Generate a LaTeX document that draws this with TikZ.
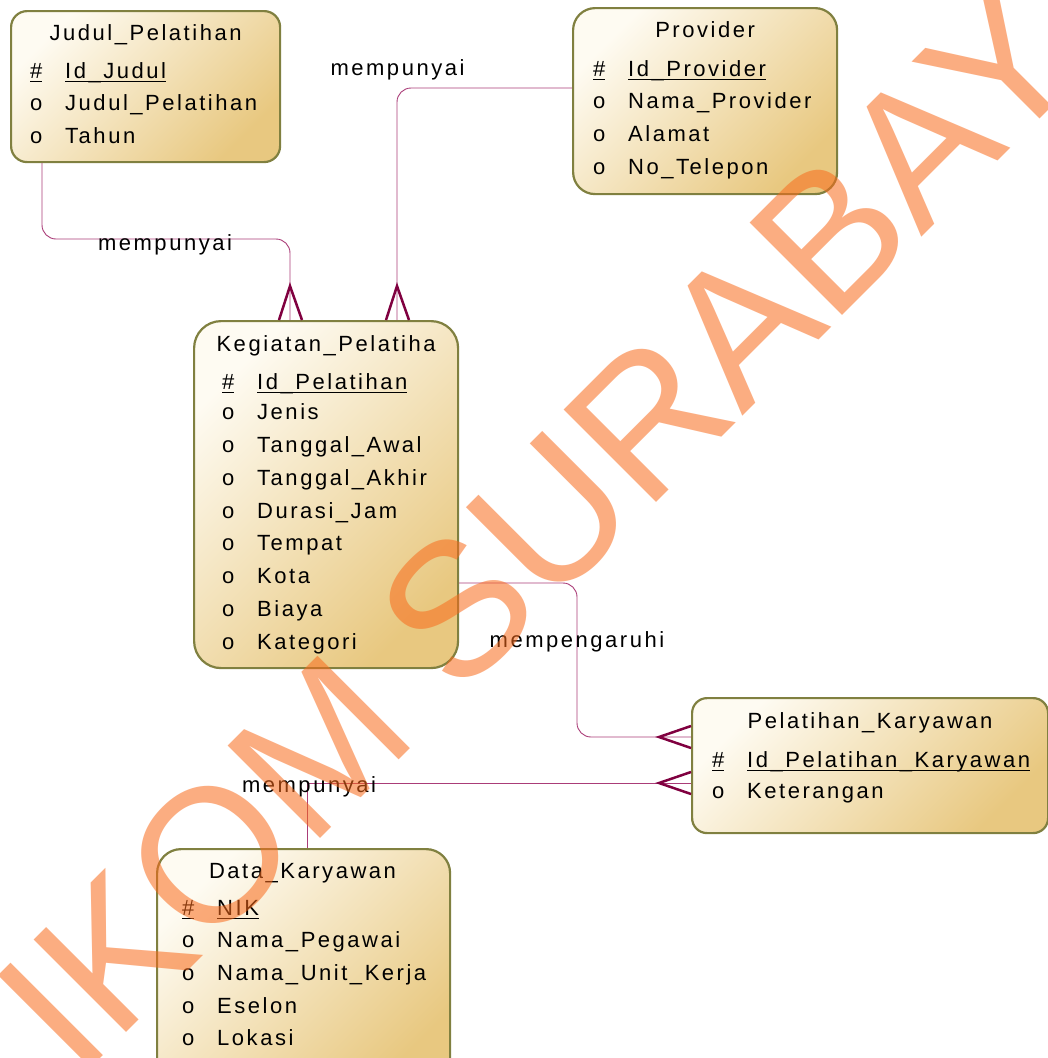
\documentclass[tikz,border=0pt]{standalone}
\usepackage{fontspec}
\setmainfont{Liberation Sans}
\newfontfamily\erfont[LetterSpace=11.5]{Liberation Sans}
\newfontfamily\wmfont{Liberation Sans}
\definecolor{boxborder}{RGB}{128,128,64}
\definecolor{boxlight}{RGB}{254,251,242}
\definecolor{boxdark}{RGB}{232,200,128}
\definecolor{connline}{RGB}{170,60,120}
\definecolor{crowc}{RGB}{128,0,64}
\definecolor{wmorange}{RGB}{249,106,27}
\newsavebox\ulsave
\newcommand\myul[1]{\sbox\ulsave{#1}\rlap{\rule[-4.2pt]{\wd\ulsave}{1.4pt}}\usebox\ulsave}
\begin{document}
\begin{tikzpicture}[x=1pt,y=-1pt,
  entity/.style={draw=boxborder, line width=2.2pt, top color=boxlight, bottom color=boxdark, shading angle=45, anchor=north west, inner sep=0pt},
  txt/.style={anchor=base west, inner sep=0pt, font=\erfont\fontsize{22}{26}\selectfont},
  ttl/.style={anchor=base, inner sep=0pt, font=\erfont\fontsize{22}{26}\selectfont},
  rel/.style={anchor=base, inner sep=0pt, font=\erfont\fontsize{22}{26}\selectfont},
  conn/.style={draw=connline, line width=0.9pt, rounded corners=14pt},
  crow/.style={draw=crowc, line width=2.5pt},
]
\clip (0,0) rectangle (1048,1058);
\fill[white] (0,0) rectangle (1048,1058);

% entity boxes
\node[entity, rounded corners=16pt, minimum width=269pt, minimum height=151pt] (judul) at (10,10) {};
\node[entity, rounded corners=22pt, minimum width=264pt, minimum height=186pt] (provider) at (572,7) {};
\node[entity, rounded corners=27pt, minimum width=264pt, minimum height=347pt] (kegiatan) at (193,320) {};
\node[entity, rounded corners=15pt, minimum width=356pt, minimum height=135pt] (pk) at (691,697) {};
\node[entity, rounded corners=24pt, minimum width=293pt, minimum height=240pt] (data) at (156,848) {};

% connectors
\draw[conn] (judul.south -| 42,0) -- (42,239) -- (290,239) -- (kegiatan.north -| 290,0);
\draw[conn] (provider.west |- 0,88) -- (397,88) -- (kegiatan.north -| 397,0);
\draw[conn] (kegiatan.east |- 0,583) -- (577,583) -- (577,737) -- (pk.west |- 0,737);
\draw[conn, rounded corners=0pt] (data.north -| 307,0) -- (307,783) -- (pk.west |- 0,783);

% crow's feet
\draw[crow] (kegiatan.north -| 279,0) -- (290,286) -- (kegiatan.north -| 302,0);
\draw[crow] (kegiatan.north -| 386,0) -- (397,286) -- (kegiatan.north -| 409,0);
\draw[crow] (pk.west |- 0,726) -- (659,737) -- (pk.west |- 0,748);
\draw[crow] (pk.west |- 0,772) -- (659,783) -- (pk.west |- 0,794);

% relationship labels
\node[rel] (r1) at (165,250) {mempunyai};
\node[rel] (r2) at (397.5,75) {mempunyai};
\node[rel] (r3) at (577,647) {mempengaruhi};
\node[rel] (r4) at (309,792) {mempunyai};

% Judul_Pelatihan
\node[ttl] (jt) at (judul.north |- 0,40) {Judul\_Pelatihan};
\node[txt] (jk) at (30,78) {\myul{\#}};
\node[txt] (ja1) at (65,78) {\myul{Id\_Judul}};
\node[txt] (jm2) at (30,110.5) {o};
\node[txt] (ja2) at (65,110.5) {Judul\_Pelatihan};
\node[txt] (jm3) at (30,143) {o};
\node[txt] (ja3) at (65,143) {Tahun};

% Provider
\node[ttl] (pt) at (provider.north |- 0,37) {Provider};
\node[txt] (pk1) at (593,76) {\myul{\#}};
\node[txt] (pa1) at (628,76) {\myul{Id\_Provider}};
\node[txt] (pm2) at (593,108.5) {o};
\node[txt] (pa2) at (628,108.5) {Nama\_Provider};
\node[txt] (pm3) at (593,141) {o};
\node[txt] (pa3) at (628,141) {Alamat};
\node[txt] (pm4) at (593,174) {o};
\node[txt] (pa4) at (628,174) {No\_Telepon};

% Kegiatan_Pelatiha
\node[ttl] (kt) at (kegiatan.north |- 0,351.5) {Kegiatan\_Pelatiha};
\node[txt] (kk1) at (222,389) {\myul{\#}};
\node[txt] (ka1) at (257,389) {\myul{Id\_Pelatihan}};
\node[txt] (km2) at (222,419.5) {o};
\node[txt] (ka2) at (257,419.5) {Jenis};
\node[txt] (km3) at (222,452.5) {o};
\node[txt] (ka3) at (257,452.5) {Tanggal\_Awal};
\node[txt] (km4) at (222,485) {o};
\node[txt] (ka4) at (257,485) {Tanggal\_Akhir};
\node[txt] (km5) at (222,518) {o};
\node[txt] (ka5) at (257,518) {Durasi\_Jam};
\node[txt] (km6) at (222,550.5) {o};
\node[txt] (ka6) at (257,550.5) {Tempat};
\node[txt] (km7) at (222,583) {o};
\node[txt] (ka7) at (257,583) {Kota};
\node[txt] (km8) at (222,616) {o};
\node[txt] (ka8) at (257,616) {Biaya};
\node[txt] (km9) at (222,649) {o};
\node[txt] (ka9) at (257,649) {Kategori};

% Pelatihan_Karyawan
\node[ttl] (qt) at (pk.north |- 0,728) {Pelatihan\_Karyawan};
\node[txt] (qk1) at (712,767) {\myul{\#}};
\node[txt] (qa1) at (747,767) {\myul{Id\_Pelatihan\_Karyawan}};
\node[txt] (qm2) at (712,798) {o};
\node[txt] (qa2) at (747,798) {Keterangan};

% Data_Karyawan
\node[ttl] (dt) at (302.5,878.5) {Data\_Karyawan};
\node[txt] (dk1) at (182,915) {\myul{\#}};
\node[txt] (da1) at (217,915) {\myul{NIK}};
\node[txt] (dm2) at (182,947) {o};
\node[txt] (da2) at (217,947) {Nama\_Pegawai};
\node[txt] (dm3) at (182,980) {o};
\node[txt] (da3) at (217,980) {Nama\_Unit\_Kerja};
\node[txt] (dm4) at (182,1013.5) {o};
\node[txt] (da4) at (217,1013.5) {Eselon};
\node[txt] (dm5) at (182,1045.5) {o};
\node[txt] (da5) at (217,1045.5) {Lokasi};

% watermark
\node[rotate=45, text=wmorange, text opacity=0.55, inner sep=0pt, font=\wmfont\fontsize{190}{190}\selectfont] (wm) at (578,488) {IKOM SURABAYA};
\end{tikzpicture}
\end{document}
